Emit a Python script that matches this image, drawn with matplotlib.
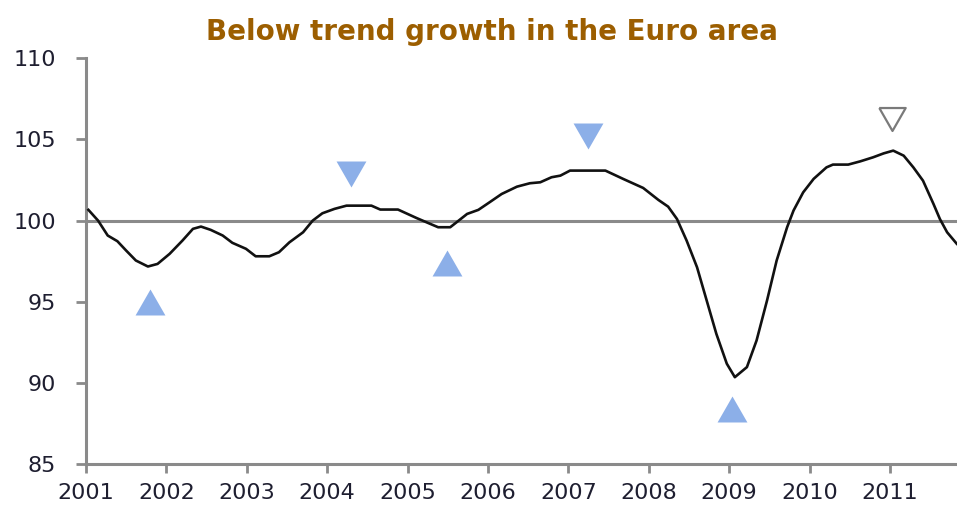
import matplotlib
matplotlib.use("Agg")
import matplotlib.pyplot as plt

# ---- data ----
dates = [2001.03, 2001.15, 2001.27, 2001.39, 2001.50, 2001.62, 2001.77, 2001.89,
         2002.04, 2002.20, 2002.33, 2002.43, 2002.55, 2002.70, 2002.82, 2002.99,
         2003.11, 2003.28, 2003.40, 2003.53, 2003.70, 2003.82, 2003.94,
         2004.09, 2004.24, 2004.55, 2004.66, 2004.88,
         2005.11, 2005.28, 2005.38, 2005.53, 2005.61, 2005.74, 2005.88,
         2006.02, 2006.17, 2006.36, 2006.52, 2006.65, 2006.79, 2006.90,
         2007.02, 2007.46, 2007.68, 2007.93,
         2008.12, 2008.24, 2008.35, 2008.47, 2008.60, 2008.72, 2008.84, 2008.97,
         2009.07, 2009.22, 2009.34, 2009.47, 2009.59, 2009.72, 2009.80, 2009.92,
         2010.05, 2010.21, 2010.29, 2010.48, 2010.63, 2010.79, 2010.92,
         2011.04, 2011.17, 2011.29, 2011.41, 2011.54, 2011.62, 2011.71, 2011.83]
index_values = [100.66, 100.00, 99.08, 98.73, 98.15, 97.54, 97.17, 97.33,
                97.95, 98.77, 99.49, 99.63, 99.43, 99.08, 98.63, 98.26,
                97.80, 97.80, 98.05, 98.66, 99.28, 100.00, 100.45,
                100.72, 100.92, 100.92, 100.68, 100.68,
                100.16, 99.80, 99.59, 99.59, 99.90, 100.41, 100.66,
                101.13, 101.64, 102.09, 102.30, 102.36, 102.67, 102.77,
                103.08, 103.08, 102.57, 102.01,
                101.27, 100.86, 100.10, 98.77, 97.12, 95.07, 93.02, 91.18,
                90.35, 90.97, 92.61, 95.07, 97.54, 99.59, 100.62, 101.74,
                102.57, 103.28, 103.45, 103.45, 103.65, 103.90, 104.14,
                104.31, 104.00, 103.28, 102.46, 101.03, 100.10, 99.28, 98.57]

# turning-point markers
trough_dates = [2001.80, 2005.49, 2009.03]
trough_values = [95.01, 97.41, 88.36]
peak_dates = [2004.30, 2007.24]
peak_values = [102.89, 105.20]
open_peak_dates = [2011.02]
open_peak_values = [106.28]

trend_level = 100
year_ticks = [2001, 2002, 2003, 2004, 2005, 2006, 2007, 2008, 2009, 2010, 2011]
y_ticks = [85, 90, 95, 100, 105, 110]
title = "Below trend growth in the Euro area"

# ---- figure ----
fig = plt.figure(figsize=(9.57, 5.12), dpi=100)
ax = fig.add_axes([86 / 957, 1 - 464 / 512, 1 - 86 / 957, (464 - 58.3) / 512])

spine_col = "#8a8a8a"
label_col = "#1e1e30"
marker_col = "#8cafe8"

ax.axhline(trend_level, color=spine_col, lw=2.2, zorder=1)
ax.plot(dates, index_values, color="#111111", lw=1.9, zorder=3,
        solid_joinstyle="round")

up_tri = [(-1, -0.87), (1, -0.87), (0, 0.87), (-1, -0.87)]
down_tri = [(-1, 0.87), (1, 0.87), (0, -0.87), (-1, 0.87)]
ax.plot(trough_dates, trough_values, linestyle="none", marker=up_tri,
        markersize=21.5, color=marker_col, markeredgewidth=0, zorder=4)
ax.plot(peak_dates, peak_values, linestyle="none", marker=down_tri,
        markersize=21.5, color=marker_col, markeredgewidth=0, zorder=4)
ax.plot(open_peak_dates, open_peak_values, linestyle="none", marker=down_tri,
        markersize=19, markerfacecolor="white", markeredgecolor="#7a7a7a",
        markeredgewidth=1.6, zorder=4)

ax.set_xlim(2001, 2011.833)
ax.set_ylim(85, 110)
ax.set_xticks(year_ticks)
ax.set_xticklabels([str(y) for y in year_ticks])
ax.set_yticks(y_ticks)

for s in ["top", "right"]:
    ax.spines[s].set_visible(False)
for s in ["left", "bottom"]:
    ax.spines[s].set_color(spine_col)
    ax.spines[s].set_linewidth(2.2)

ax.tick_params(axis="both", direction="out", color=spine_col, width=2.0,
               labelsize=16, labelcolor=label_col)
ax.tick_params(axis="y", length=7.5, pad=14)
ax.tick_params(axis="x", length=6.5, pad=7)
for lab in ax.get_xticklabels() + ax.get_yticklabels():
    lab.set_family("DejaVu Sans")

fig.text(492 / 957, 1 - 40 / 512, title, ha="center", va="baseline",
         fontsize=20, fontweight="bold", color="#9c5e00",
         family=["DejaVu Sans"])

fig.savefig("out.png", dpi=100)
